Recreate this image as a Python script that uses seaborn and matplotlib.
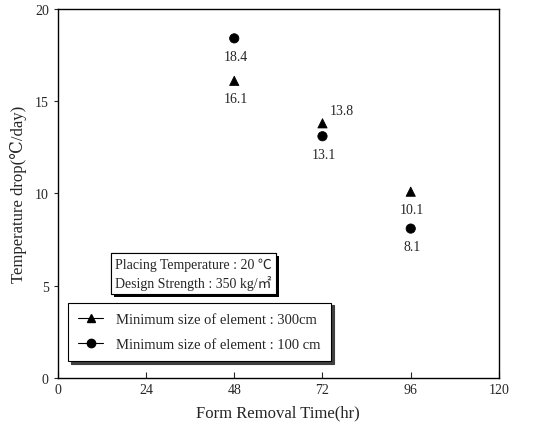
import pandas as pd
import numpy as np
import matplotlib
matplotlib.use("Agg")
import matplotlib.pyplot as plt
import matplotlib.patheffects as pe
from matplotlib.lines import Line2D
import seaborn as sns

removal_time = [48, 72, 96]
drop_300cm = [16.1, 13.8, 10.1]
drop_100cm = [18.4, 13.1, 8.1]
series_names = ["Minimum size of element : 300cm", "Minimum size of element : 100 cm"]

df = pd.DataFrame({
    "time": removal_time * 2,
    "drop": drop_300cm + drop_100cm,
    "series": [series_names[0]] * 3 + [series_names[1]] * 3,
})

sns.set_style("ticks")
plt.rcParams["font.family"] = ["Liberation Serif", "DejaVu Serif"]

fig = plt.figure(figsize=(5.4, 4.27), dpi=100)
ax = fig.add_axes([0.107, 0.112, 0.817, 0.865])

sns.scatterplot(data=df, x="time", y="drop", style="series", hue="series",
                markers={series_names[0]: "^", series_names[1]: "o"},
                palette={series_names[0]: "black", series_names[1]: "black"},
                s=45, edgecolor="black", legend=False, ax=ax)

# value labels
for t, v in zip(removal_time, drop_300cm):
    if t == 72:
        ax.annotate(f"{v}", (t, v), xytext=(14, 9), textcoords="offset points",
                    ha="center", va="center", fontsize=10)
    else:
        ax.annotate(f"{v}", (t, v), xytext=(1, -13), textcoords="offset points",
                    ha="center", va="center", fontsize=10)
for t, v in zip(removal_time, drop_100cm):
    ax.annotate(f"{v}", (t, v), xytext=(1, -13), textcoords="offset points",
                ha="center", va="center", fontsize=10)

ax.set_xlim(0, 120)
ax.set_ylim(0, 20)
ax.set_xticks([0, 24, 48, 72, 96, 120])
ax.set_yticks([0, 5, 10, 15, 20])
ax.tick_params(axis="x", direction="in", length=4, labelsize=10)
ax.tick_params(axis="y", direction="out", length=3, labelsize=10)
for sp in ax.spines.values():
    sp.set_visible(True)
    sp.set_linewidth(1.0)
    sp.set_color("black")

ax.set_xlabel("Form Removal Time(hr)", fontsize=12, labelpad=6)
ax.set_ylabel("Temperature drop(℃/day)", fontsize=12, labelpad=6)

t = ax.text(0.13, 0.283, "Placing Temperature : 20 ℃\nDesign Strength : 350 kg/㎡",
            transform=ax.transAxes, fontsize=10, va="center", ha="left",
            family=["Liberation Serif", "Noto Sans CJK KR", "DejaVu Sans"],
            linespacing=1.3,
            bbox=dict(boxstyle="square,pad=0.3", fc="white", ec="black", lw=0.8))
t.get_bbox_patch().set_path_effects([
    pe.withSimplePatchShadow(offset=(2, -2), shadow_rgbFace="black", alpha=1.0),
    pe.Normal()])

handles = [
    Line2D([0], [0], color="black", marker="^", markersize=6, lw=0.8),
    Line2D([0], [0], color="black", marker="o", markersize=6, lw=0.8),
]
leg = ax.legend(handles, series_names, loc="lower left", bbox_to_anchor=(0.023, 0.046),
                borderaxespad=0, fontsize=10.5, frameon=True, fancybox=False,
                shadow={"color": "0.25", "alpha": 1.0},
                handlelength=1.7, handletextpad=0.9, borderpad=0.7, labelspacing=0.8,
                edgecolor="black")
leg.get_frame().set_linewidth(0.8)

fig.savefig("out.png", dpi=100)
